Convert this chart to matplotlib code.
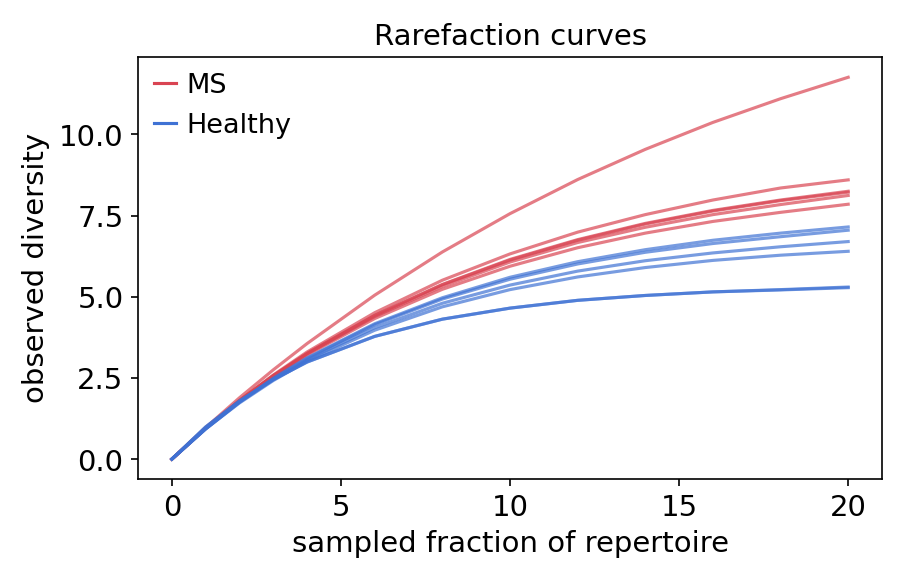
import matplotlib
matplotlib.use("Agg")
import matplotlib.pyplot as plt

# sampled fraction of repertoire
x = [0, 1, 2, 3, 4, 6, 8, 10, 12, 14, 16, 18, 20]

# observed diversity
ms_curves = [
    [0, 0.97, 1.89, 2.75, 3.56, 5.05, 6.38, 7.56, 8.61, 9.54, 10.37, 11.10, 11.76],
    [0, 0.95, 1.81, 2.59, 3.30, 4.51, 5.51, 6.32, 6.99, 7.53, 7.98, 8.35, 8.60],
    [0, 0.95, 1.80, 2.57, 3.25, 4.42, 5.37, 6.13, 6.74, 7.24, 7.64, 7.96, 8.22],
    [0, 0.95, 1.80, 2.57, 3.26, 4.43, 5.38, 6.15, 6.76, 7.26, 7.66, 7.98, 8.25],
    [0, 0.95, 1.79, 2.56, 3.24, 4.39, 5.32, 6.07, 6.67, 7.14, 7.53, 7.84, 8.12],
    [0, 0.95, 1.78, 2.54, 3.21, 4.33, 5.23, 5.94, 6.51, 6.96, 7.32, 7.60, 7.85],
]
healthy_curves = [
    [0, 0.94, 1.76, 2.49, 3.12, 4.17, 4.97, 5.60, 6.08, 6.45, 6.74, 6.96, 7.15],
    [0, 0.93, 1.76, 2.47, 3.10, 4.14, 4.93, 5.54, 6.01, 6.37, 6.64, 6.85, 7.05],
    [0, 0.93, 1.75, 2.45, 3.06, 4.05, 4.80, 5.36, 5.79, 6.11, 6.35, 6.54, 6.70],
    [0, 0.93, 1.73, 2.42, 3.02, 3.97, 4.69, 5.22, 5.61, 5.90, 6.12, 6.28, 6.40],
    [0, 0.99, 1.79, 2.45, 2.99, 3.78, 4.31, 4.65, 4.89, 5.04, 5.15, 5.21, 5.28],
    [0, 0.99, 1.79, 2.45, 2.99, 3.78, 4.31, 4.65, 4.89, 5.04, 5.15, 5.22, 5.30],
]

ms_color = "#d94452"
healthy_color = "#3f72d4"

fig, ax = plt.subplots(figsize=(6.03, 3.87), dpi=150)
for i, y in enumerate(ms_curves):
    ax.plot(x, y, color=ms_color, alpha=0.7, lw=1.5, label="MS" if i == 0 else None)
for i, y in enumerate(healthy_curves):
    ax.plot(x, y, color=healthy_color, alpha=0.7, lw=1.5, label="Healthy" if i == 0 else None)

ax.set_xticks([0, 5, 10, 15, 20])
ax.set_yticks([0, 2.5, 5.0, 7.5, 10.0])
ax.set_xlim(-1, 21)
ax.set_ylim(-0.6, 12.4)
ax.tick_params(labelsize=14)
ax.set_xlabel("sampled fraction of repertoire", fontsize=14)
ax.set_ylabel("observed diversity", fontsize=14)
ax.set_title("Rarefaction curves", fontsize=14)
leg = ax.legend(loc="upper left", frameon=False, fontsize=13, handlelength=0.8,
                handletextpad=0.4, borderaxespad=0.2)
for h in leg.get_lines():
    h.set_alpha(1)

plt.tight_layout()
plt.savefig("out.png", dpi=150)
